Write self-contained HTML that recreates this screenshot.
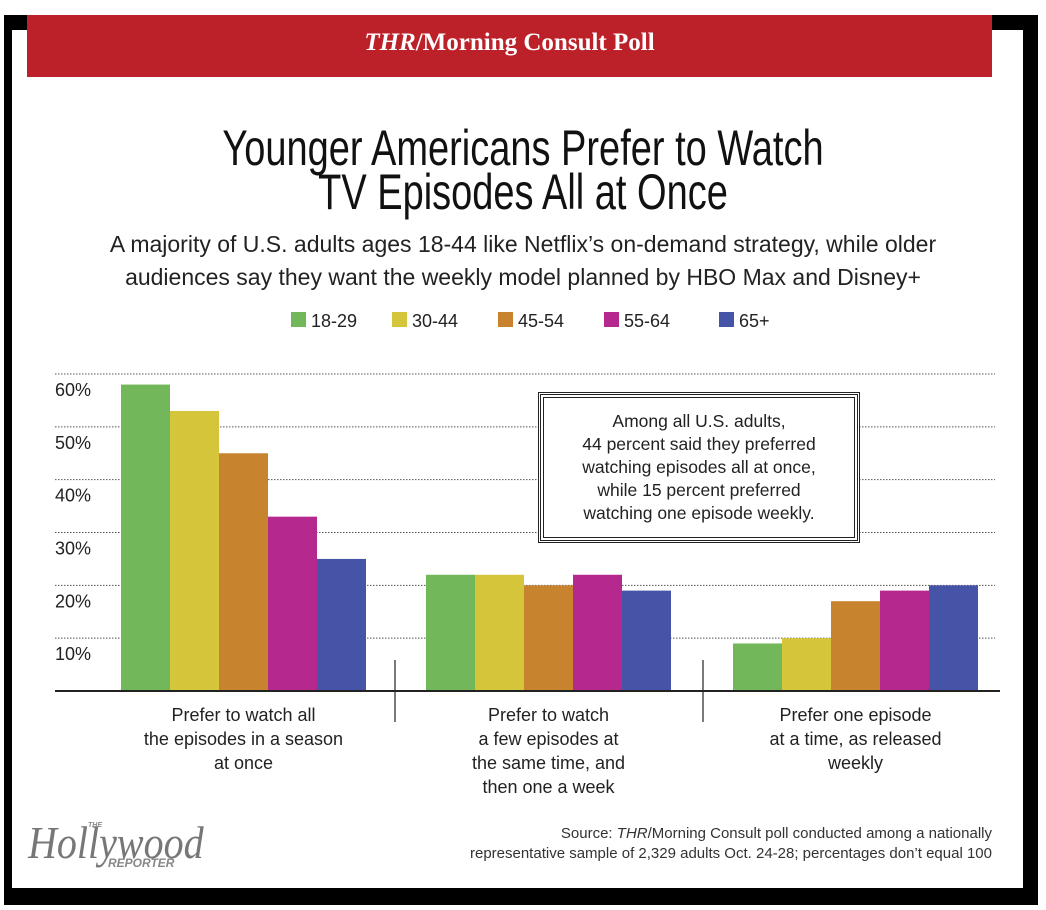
<!DOCTYPE html>
<html><head><meta charset="utf-8">
<style>
body{margin:0;background:#fff;}
#wrap{position:relative;width:1046px;height:910px;overflow:hidden;background:#fff;font-family:"Liberation Sans",sans-serif;}
.t{position:absolute;white-space:nowrap;}
</style></head>
<body>
<div id="wrap">
<div style="position:absolute;left:4px;top:15px;width:1034px;height:890px;background:#000;"></div>
<div style="position:absolute;left:12px;top:30px;width:1011px;height:858px;background:#fff;"></div>
<div style="position:absolute;left:27px;top:15px;width:965px;height:62px;background:#bc2028;"></div>
<div class="t" style="left:27px;width:965px;top:29px;text-align:center;color:#fff;font-family:'Liberation Serif',serif;font-weight:bold;font-size:25px;"><i>THR</i>/Morning Consult Poll</div>
<div class="t" style="left:0;width:1046px;top:126px;text-align:center;font-size:50px;line-height:44px;color:#111;transform:scaleX(0.76);transform-origin:523px 0;">Younger Americans Prefer to Watch<br>TV Episodes All at Once</div>
<div class="t" style="left:0;width:1046px;top:228px;text-align:center;font-size:23px;line-height:33px;color:#222;">A majority of U.S. adults ages 18-44 like Netflix’s on-demand strategy, while older<br>audiences say they want the weekly model planned by HBO Max and Disney+</div>
<svg id="chart" width="1046" height="910" style="position:absolute;left:0;top:0;"></svg>
<div style="position:absolute;left:538px;top:392px;width:316px;height:145px;border:3px double #222;outline:1px solid #222;outline-offset:-6px;background:#fff;"></div>
<div class="t" style="left:538px;width:322px;top:410px;text-align:center;font-size:17.5px;line-height:23px;color:#222;">Among all U.S. adults,<br>44 percent said they preferred<br>watching episodes all at once,<br>while 15 percent preferred<br>watching one episode weekly.</div>
<div class="t" style="left:28px;top:816px;font-family:'Liberation Serif',serif;font-style:italic;font-size:46px;color:#777;transform:scaleX(0.87);transform-origin:0 0;">Hollywood</div>
<div class="t" style="left:88px;top:822px;font-size:7px;font-weight:bold;font-style:italic;color:#888;">THE</div>
<div class="t" style="left:108px;top:856px;font-size:12px;font-weight:bold;font-style:italic;color:#888;">REPORTER</div>
<div class="t" style="right:54px;top:824px;text-align:right;font-size:15px;line-height:20px;color:#333;">Source: <i>THR</i>/Morning Consult poll conducted among a nationally<br>representative sample of 2,329 adults Oct. 24-28; percentages don’t equal 100</div>
</div>
<script>
const categories=["Prefer to watch all|the episodes in a season|at once","Prefer to watch|a few episodes at|the same time, and|then one a week","Prefer one episode|at a time, as released|weekly"];
const seriesNames=["18-29","30-44","45-54","55-64","65+"];
const seriesColors=["#72b85a","#d5c53a","#c8832e","#b5298e","#4554a6"];
const v1829=[58,22,9];
const v3044=[53,22,10];
const v4554=[45,20,17];
const v5564=[33,22,19];
const v65=[25,19,20];
const ticks=[10,20,30,40,50,60];
const series=[v1829,v3044,v4554,v5564,v65];
const NS="http://www.w3.org/2000/svg";
const svg=document.getElementById('chart');
const base=691, top60=374;
const y=v=>base-(v/60)*(base-top60);
const groupX=[121,426,733], bw=49;
const x=(g,s)=>groupX[g]+s*bw;
function mk(t,a){const e=document.createElementNS(NS,t);for(const k in a)e.setAttribute(k,a[k]);svg.appendChild(e);return e;}
ticks.forEach(t=>{
  const l=mk('line',{x1:55,x2:995,y1:y(t),y2:y(t),stroke:'#555','stroke-width':1,'stroke-dasharray':'1.5,1.5'});
  
  
  const tx=mk('text',{x:55,y:y(t)+22,'font-size':18,fill:'#222','font-family':'Liberation Sans, sans-serif'});
  tx.textContent=t+'%';
  
  
});
series.forEach((arr,s)=>{
  arr.forEach((v,g)=>{
    const r=mk('rect',{x:x(g,s),y:y(v),width:bw,height:base-y(v),fill:seriesColors[s]});
    
    
  });
});
const ax=mk('line',{x1:55,x2:1000,y1:base,y2:base,stroke:'#222','stroke-width':2});


[395,703].forEach((dx,i)=>{
  const d=mk('line',{x1:dx,x2:dx,y1:660,y2:722,stroke:'#222','stroke-width':1.2});
  
  
});
categories.forEach((c,g)=>{
  const cx=groupX[g]+bw*2.5;
  c.split('|').forEach((ln,i)=>{
    const t=mk('text',{x:cx,y:721+i*24,'text-anchor':'middle','font-size':18,fill:'#222','font-family':'Liberation Sans, sans-serif'});
    t.textContent=ln;
    
    
  });
});
const legX=[291,392,498,604,719];
seriesNames.forEach((n,i)=>{
  const r=mk('rect',{x:legX[i],y:312,width:15,height:15,fill:seriesColors[i]});
  
  
  const t=mk('text',{x:legX[i]+20,y:327,'font-size':18,fill:'#222','font-family':'Liberation Sans, sans-serif'});
  t.textContent=n;
  
  
});
</script>
</body></html>
